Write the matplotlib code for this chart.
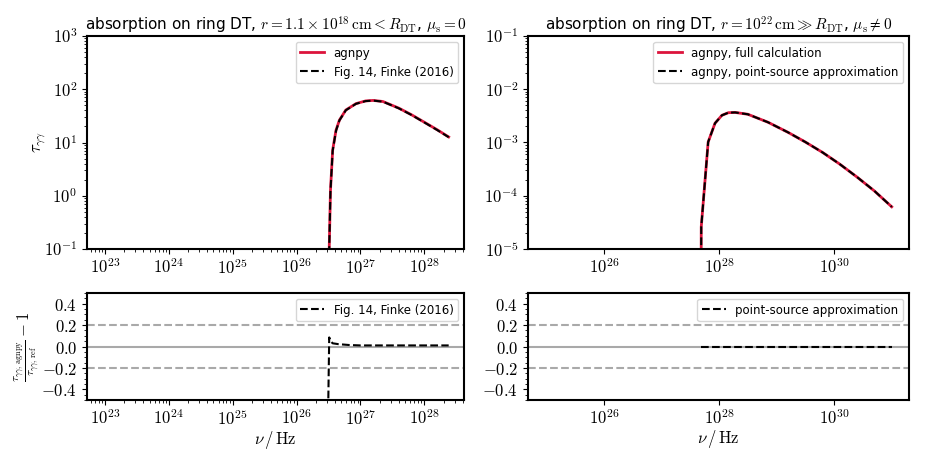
import matplotlib
matplotlib.use("Agg")
import matplotlib.pyplot as plt
import numpy as np
from matplotlib.ticker import FixedLocator, FuncFormatter, LogLocator, MultipleLocator, NullLocator

plt.rcParams["mathtext.fontset"] = "cm"
plt.rcParams["font.family"] = ["DejaVu Sans"]

# --- left: ring DT, r = 1.1e18 cm, comparison with Finke (2016)
nu_ring = [3.09e26, 3.24e26, 3.39e26, 3.67e26, 4.14e26, 4.68e26, 5.89e26, 8.51e26,
           1.2e27, 1.58e27, 2.24e27, 3.98e27, 6.31e27, 1.0e28, 1.58e28, 2.4e28]
tau_agnpy_ring = [0.01, 0.1, 1.26, 7.2, 17.0, 26.3, 40.7, 53.7,
                  60.3, 61.7, 58.9, 44.2, 33.1, 24.0, 17.4, 12.7]
tau_finke_ring = [0.012, 0.1, 1.2, 7.0, 16.6, 26.0, 40.3, 53.3,
                  59.9, 61.3, 58.5, 43.8, 32.8, 23.8, 17.2, 12.6]

nu_ratio_ring = [3.05e26, 3.24e26, 3.4e26, 3.67e26, 4.5e26, 6.6e26, 1.0e27,
                 3.0e27, 1.0e28, 2.4e28]
ratio_ring = [-1.0, 0.085, 0.05, 0.03, 0.022, 0.014, 0.01, 0.01, 0.01, 0.01]

# --- right: ring DT, r = 1e22 cm, point-source approximation
nu_ps = [4.84e27, 4.9e27, 6.46e27, 8.5e27, 1.12e28, 1.45e28, 1.9e28, 3.16e28,
         7.08e28, 1.58e29, 3.16e29, 6.3e29, 1.26e30, 2.5e30, 5.0e30, 1.0e31]
tau_full = [1e-7, 2.6e-5, 1.02e-3, 2.3e-3, 3.24e-3, 3.63e-3, 3.67e-3, 3.39e-3,
            2.4e-3, 1.55e-3, 1.02e-3, 6.5e-4, 3.9e-4, 2.24e-4, 1.23e-4, 6.2e-5]
tau_ps = [1e-7, 2.6e-5, 1.02e-3, 2.3e-3, 3.24e-3, 3.63e-3, 3.67e-3, 3.39e-3,
          2.4e-3, 1.55e-3, 1.02e-3, 6.5e-4, 3.9e-4, 2.24e-4, 1.23e-4, 6.2e-5]
ratio_ps = [0.0, 0.0, 0.0, 0.0, 0.0, 0.0, 0.0, 0.0,
            0.0, 0.0, 0.0, 0.0, 0.0, 0.0, 0.0, 0.0]

W, H = 926, 463
fig = plt.figure(figsize=(W / 100, H / 100), dpi=100)


def rect(x0, y0, x1, y1):
    return [x0 / W, 1 - y1 / H, (x1 - x0) / W, (y1 - y0) / H]


ax1 = fig.add_axes(rect(87, 36, 464, 249))
ax2 = fig.add_axes(rect(528, 36, 909, 249))
ax3 = fig.add_axes(rect(87, 293, 464, 400))
ax4 = fig.add_axes(rect(528, 293, 909, 400))

log_fmt = FuncFormatter(lambda v, p: r"$10^{%d}$" % int(round(np.log10(v))))
lin_fmt = FuncFormatter(lambda v, p: r"$%.1f$" % v if abs(v) > 1e-9 else r"$0.0$")

ax1.loglog(nu_ring, tau_agnpy_ring, color="crimson", lw=2, label="agnpy")
ax1.loglog(nu_ring, tau_finke_ring, color="k", ls="--", lw=1.5,
           label="Fig. 14, Finke (2016)")
ax1.set_ylim(1e-1, 1e3)
ax1.set_xlim(10**22.72, 10**28.62)
ax1.set_ylabel(r"$\tau_{\gamma\gamma}$", fontsize=12)
ax1.yaxis.set_label_coords(-0.104, 0.5)
ax1.set_title(r"absorption on ring DT, $r = 1.1 \times 10^{18}\,{\rm cm} < R_{\rm DT}$, $\mu_{\rm s} = 0$",
              fontsize=11, pad=3)
ax1.legend(loc="upper right", fontsize=8.5)

ax2.loglog(nu_ps, tau_full, color="crimson", lw=2, label="agnpy, full calculation")
ax2.loglog(nu_ps, tau_ps, color="k", ls="--", lw=1.5,
           label="agnpy, point-source approximation")
ax2.set_ylim(1e-5, 1e-1)
ax2.set_xlim(10**24.68, 10**31.3)
ax2.set_title(r"absorption on ring DT, $r = 10^{22}\,{\rm cm} \gg R_{\rm DT}$, $\mu_{\rm s} \neq 0$",
              fontsize=11, pad=3)
ax2.legend(loc="upper right", fontsize=8.5)

for ax in (ax3, ax4):
    ax.axhline(0, color="darkgray", lw=1.5)
    ax.axhline(0.2, color="darkgray", ls="--", lw=1.5)
    ax.axhline(-0.2, color="darkgray", ls="--", lw=1.5)

ax3.semilogx(nu_ratio_ring, ratio_ring, color="k", ls="--", lw=1.5,
             label="Fig. 14, Finke (2016)")
ax3.set_xlim(10**22.72, 10**28.62)
ax3.set_ylabel(r"$\frac{\tau_{\gamma\gamma,\,{\rm agnpy}}}{\tau_{\gamma\gamma,\,{\rm ref}}} - 1$",
               fontsize=12)
ax3.yaxis.set_label_coords(-0.12, 0.5)
ax3.legend(loc="upper right", fontsize=8.5)

ax4.semilogx(nu_ps, ratio_ps, color="k", ls="--", lw=1.5,
             label="point-source approximation")
ax4.set_xlim(10**24.68, 10**31.3)
ax4.legend(loc="upper right", fontsize=8.5)

for ax in (ax3, ax4):
    ax.set_ylim(-0.5, 0.5)
    ax.yaxis.set_major_locator(MultipleLocator(0.2))
    ax.yaxis.set_minor_locator(MultipleLocator(0.05))
    ax.yaxis.set_major_formatter(lin_fmt)
    ax.set_xlabel(r"$\nu\,/\,{\rm Hz}$", fontsize=12, labelpad=0)

for ax in (ax1, ax3):
    ax.xaxis.set_major_locator(LogLocator(base=10, numticks=20))
    ax.xaxis.set_minor_locator(LogLocator(base=10, subs=np.arange(2, 10), numticks=20))
for ax in (ax2, ax4):
    ax.xaxis.set_major_locator(FixedLocator([1e26, 1e28, 1e30]))
    ax.xaxis.set_minor_locator(NullLocator())
for ax in (ax1, ax2):
    ax.yaxis.set_major_locator(LogLocator(base=10, numticks=20))
    ax.yaxis.set_minor_locator(LogLocator(base=10, subs=np.arange(2, 10), numticks=20))
    ax.yaxis.set_major_formatter(log_fmt)
for ax in (ax1, ax2, ax3, ax4):
    ax.xaxis.set_major_formatter(log_fmt)
    ax.tick_params(labelsize=12)
    for s in ax.spines.values():
        s.set_linewidth(1.5)

fig.savefig("out.png", dpi=100)
